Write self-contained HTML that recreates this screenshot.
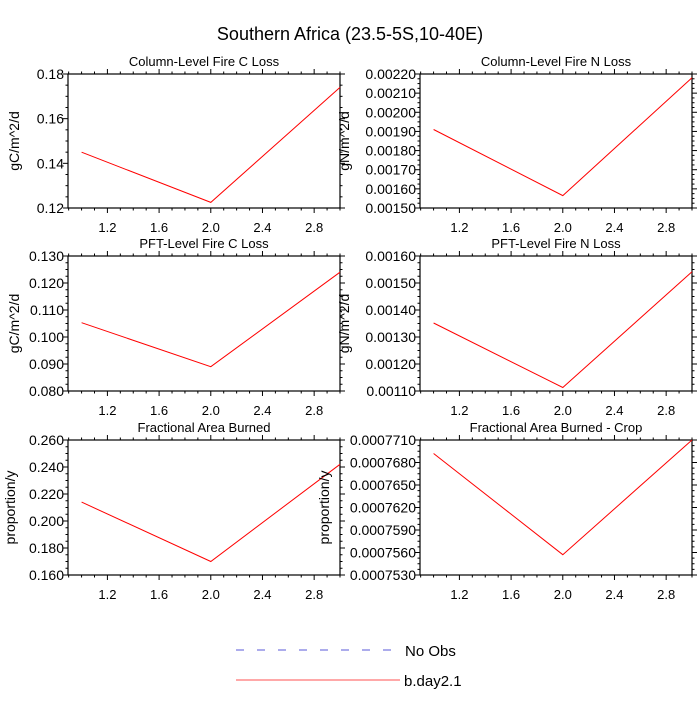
<!DOCTYPE html>
<html><head><meta charset="utf-8"><style>
body{margin:0;background:#fff;width:700px;height:700px;overflow:hidden}
svg{font-family:"Liberation Sans",sans-serif}
</style></head><body>
<svg id="chart" width="700" height="700">
<text x="350" y="40" font-size="18" text-anchor="middle">Southern Africa (23.5-5S,10-40E)</text>
<g id="panels"></g>
<g>
<line x1="236" y1="650" x2="393" y2="650" stroke="#5858d8" stroke-width="1" stroke-dasharray="8,13"/>
<text x="405" y="656" font-size="15">No Obs</text>
<line x1="236" y1="680" x2="400" y2="680" stroke="#ff5050" stroke-width="1"/>
<text x="404" y="686" font-size="15">b.day2.1</text>
</g>
</svg>
<script>
const xValues = [1, 2, 3];
const xTicks = [1.2, 1.6, 2.0, 2.4, 2.8];
const titles = ["Column-Level Fire C Loss","Column-Level Fire N Loss","PFT-Level Fire C Loss","PFT-Level Fire N Loss","Fractional Area Burned","Fractional Area Burned - Crop"];
const yTitles = ["gC/m^2/d","gN/m^2/d","gC/m^2/d","gN/m^2/d","proportion/y","proportion/y"];
const seriesColC = [0.145, 0.1225, 0.174];
const seriesColN = [0.00191, 0.001565, 0.00218];
const seriesPftC = [0.1053, 0.089, 0.124];
const seriesPftN = [0.001352, 0.001113, 0.001542];
const seriesFab = [0.214, 0.170, 0.242];
const seriesFabCrop = [0.0007692, 0.0007557, 0.000771];
const yTicksColC = ["0.12","0.14","0.16","0.18"];
const yTicksColN = ["0.00150","0.00160","0.00170","0.00180","0.00190","0.00200","0.00210","0.00220"];
const yTicksPftC = ["0.080","0.090","0.100","0.110","0.120","0.130"];
const yTicksPftN = ["0.00110","0.00120","0.00130","0.00140","0.00150","0.00160"];
const yTicksFab = ["0.160","0.180","0.200","0.220","0.240","0.260"];
const yTicksFabCrop = ["0.0007530","0.0007560","0.0007590","0.0007620","0.0007650","0.0007680","0.0007710"];

const series=[seriesColC,seriesColN,seriesPftC,seriesPftN,seriesFab,seriesFabCrop];
const yticks=[yTicksColC,yTicksColN,yTicksPftC,yTicksPftN,yTicksFab,yTicksFabCrop];
const yTitleX=[14,344,14,344,10,324];
const cols=[[68,340],[420,692]];
const rows=[[74,208],[256,391],[440,575]];
const NS="http://www.w3.org/2000/svg";
const root=document.getElementById('panels');
function mk(tag,attrs,parent){const e=document.createElementNS(NS,tag);for(const k in attrs)e.setAttribute(k,attrs[k]);parent.appendChild(e);return e;}
for(let i=0;i<6;i++){
  const [L,R]=cols[i%2],[T,B]=rows[Math.floor(i/2)];
  const xmin=0.895,xmax=3.0;
  const xs=v=>L+(v-xmin)/(xmax-xmin)*(R-L);
  const yt=yticks[i].map(Number);
  const ymin=yt[0],ymax=yt[yt.length-1];
  const ys=v=>B-(v-ymin)/(ymax-ymin)*(B-T);
  const g=mk('g',{},root);
  
  
  const t=mk('text',{x:(L+R)/2,y:T-8,'font-size':13,'text-anchor':'middle'},g);t.textContent=titles[i];
  
  
  const yl=mk('text',{transform:`translate(${yTitleX[i]+5},${(T+B)/2}) rotate(-90)`,'font-size':14,'text-anchor':'middle'},g);yl.textContent=yTitles[i];
  
  
  const box=mk('rect',{x:L,y:T,width:R-L,height:B-T,fill:'none',stroke:'#000','stroke-width':1.2},g);
  
  
  const ax=mk('g',{stroke:'#000','stroke-width':1},g);
  
  
  xTicks.forEach(v=>{const x=xs(v);
    mk('line',{x1:x,x2:x,y1:B,y2:B+5},ax);mk('line',{x1:x,x2:x,y1:T,y2:T-5},ax);
    const tl=mk('text',{x:x,y:B+24,'font-size':13,'text-anchor':'middle',stroke:'none'},g);tl.textContent=v.toFixed(1);
    
    
  });
  for(let k=0;k<xTicks.length+1;k++){for(let m=1;m<4;m++){const v=1.2+(k-1)*0.4+m*0.1;if(v<xmin||v>xmax)continue;const x=xs(v);
    mk('line',{x1:x,x2:x,y1:B,y2:B+2.5},ax);mk('line',{x1:x,x2:x,y1:T,y2:T-2.5},ax);}}
  yt.forEach((v,j)=>{const y=ys(v);
    mk('line',{x1:L-5,x2:L,y1:y,y2:y},ax);mk('line',{x1:R,x2:R+5,y1:y,y2:y},ax);
    const tl=mk('text',{x:L-4,y:y+5,'font-size':14,'text-anchor':'end',stroke:'none'},g);tl.textContent=yticks[i][j];
    
    
    if(j<yt.length-1){const st=(yt[j+1]-v)/4;for(let m=1;m<4;m++){const yy=ys(v+m*st);
      mk('line',{x1:L-2.5,x2:L,y1:yy,y2:yy},ax);mk('line',{x1:R,x2:R+2.5,y1:yy,y2:yy},ax);}}
  });
  const pts=series[i].map((v,j)=>xs(xValues[j]).toFixed(1)+','+ys(v).toFixed(1)).join(' ');
  const pl=mk('polyline',{points:pts,fill:'none',stroke:'#ff0000','stroke-width':1},g);
  
  
}
</script>
</body></html>
